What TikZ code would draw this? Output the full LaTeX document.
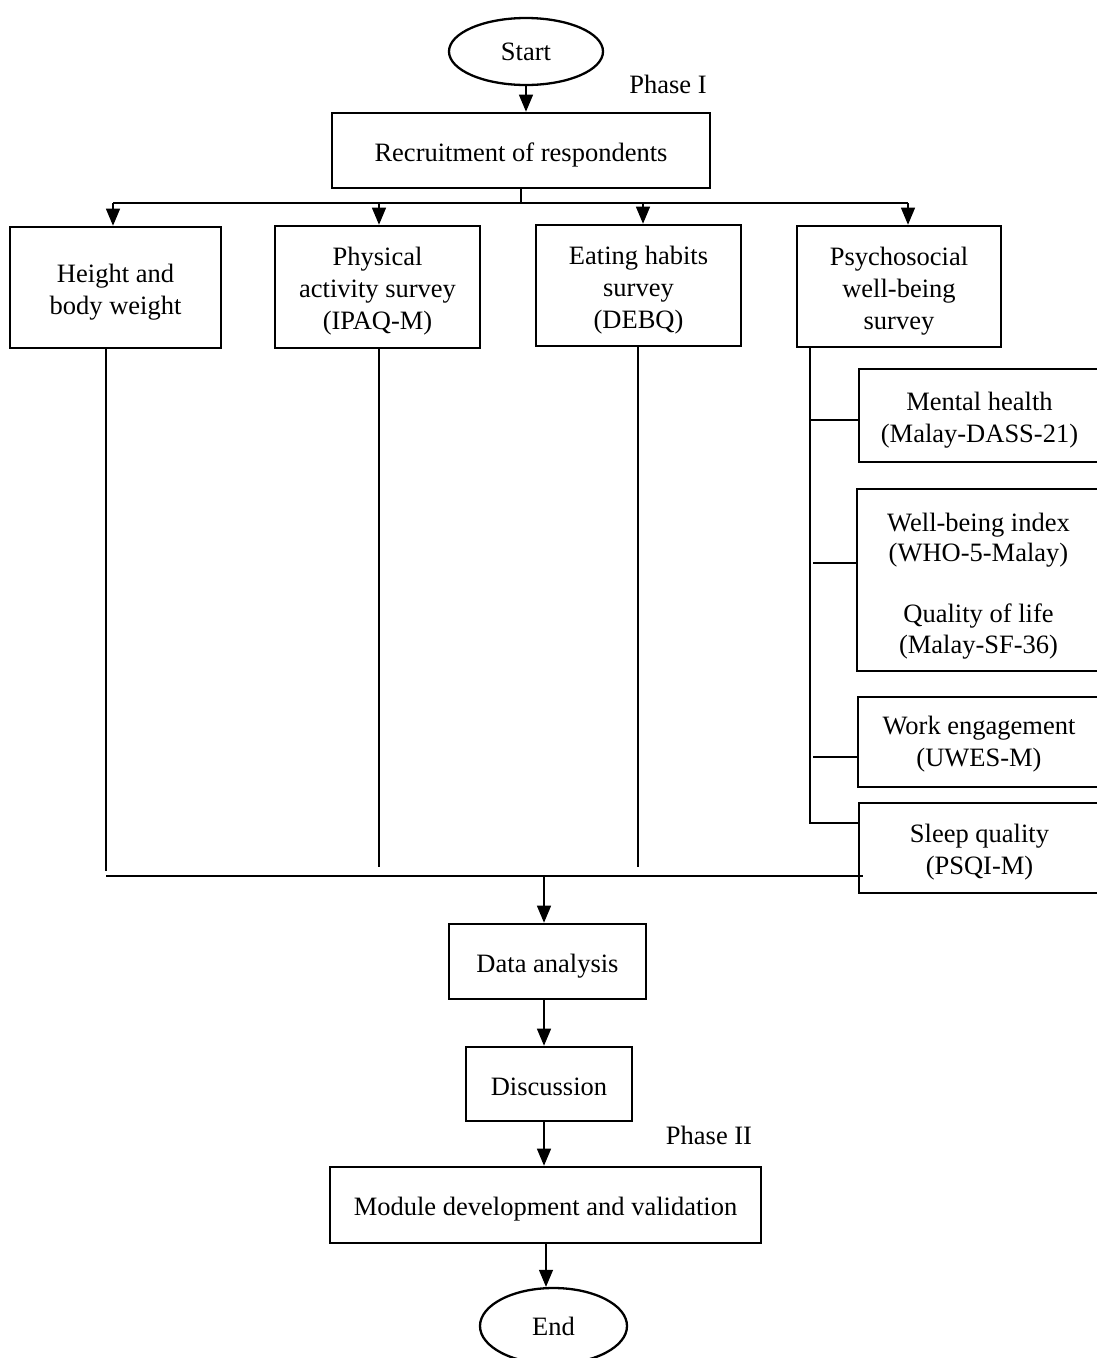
\documentclass[tikz,border=0pt]{standalone}
\usepackage{fontspec}
\setmainfont{Liberation Serif}
\usetikzlibrary{arrows.meta,shapes.geometric}
\begin{document}
\begin{tikzpicture}[x=1pt,y=-1pt,
  every node/.style={font=\fontsize{26.5}{32}\selectfont},
  boxnode/.style={draw,line width=2.6pt,inner sep=0pt},
  txt/.style={align=center,inner sep=0pt,yshift=-4.5pt},
  ovalnode/.style={draw,ellipse,line width=2.3pt,inner sep=0pt},
  link/.style={line width=1.2pt},
  arr/.style={line width=1.2pt,-{Triangle[length=17pt,width=14pt]}},
]
\useasboundingbox (0,0) rectangle (1097,1358);
\clip (0,0) rectangle (1097,1358);
\fill[white] (0,0) rectangle (1097,1358);

\node[ovalnode,minimum width=154pt,minimum height=67pt] (start) at (526,51.5) {Start};
\node (ph1) at (668,84) {Phase I};
\node[boxnode,minimum width=378pt,minimum height=75pt,label={[txt]center:Recruitment of respondents}] (recruit) at (521,150.5) {};

\node[boxnode,minimum width=211pt,minimum height=121pt,label={[txt]center:Height and\\body weight}] (b1) at (115.5,287.5) {};
\node[boxnode,minimum width=205pt,minimum height=122pt,label={[txt]center:Physical\\activity survey\\(IPAQ-M)}] (b2) at (377.5,287) {};
\node[boxnode,minimum width=205pt,minimum height=121pt,label={[txt]center:Eating habits\\survey\\(DEBQ)}] (b3) at (638.5,285.5) {};
\node[boxnode,minimum width=204pt,minimum height=121pt,label={[txt]center:Psychosocial\\well-being\\survey}] (b4) at (899,286.5) {};

\node[boxnode,minimum width=241pt,minimum height=93pt,label={[txt]center:Mental health\\(Malay-DASS-21)}] (m1) at (979.5,415.5) {};
\node[boxnode,minimum width=243pt,minimum height=182pt,label={[txt,yshift=-1.5pt,font=\fontsize{26.5}{30.5}\selectfont]center:Well-being index\\(WHO-5-Malay)\\[30.5pt]Quality of life\\(Malay-SF-36)}] (m2) at (978.5,580) {};
\node[boxnode,minimum width=242pt,minimum height=90pt,label={[txt,yshift=2pt]center:Work engagement\\(UWES-M)}] (m3) at (979,742) {};
\node[boxnode,minimum width=241pt,minimum height=90pt,label={[txt]center:Sleep quality\\(PSQI-M)}] (m4) at (979.5,848) {};

\node[boxnode,minimum width=197pt,minimum height=75pt,label={[txt]center:Data analysis}] (data) at (547.5,961.5) {};
\node[boxnode,minimum width=166pt,minimum height=74pt,label={[txt,yshift=1.5pt]center:Discussion}] (disc) at (549,1084) {};
\node (ph2) at (709,1135) {Phase II};
\node[boxnode,minimum width=431pt,minimum height=76pt,label={[txt]center:Module development and validation}] (module) at (545.5,1205) {};
\node[ovalnode,minimum width=147pt,minimum height=76pt] (end) at (553.5,1326) {End};

% top part
\draw[arr] (start.south) -- (start.south |- recruit.north);
\coordinate (bus) at (521,203);
\coordinate (busL) at (113,203);
\coordinate (busA) at (379,203);
\coordinate (busB) at (643,203);
\coordinate (busR) at (908,203);
\draw[line width=2.6pt] (recruit.south -| bus) -- (bus);
\draw[line width=1.6pt] (busL) -- (busR);
\draw[arr] (busL) -- (busL |- b1.north);
\draw[arr] (busA) -- (busA |- b2.north);
\draw[arr] (busB) -- (busB |- b3.north);
\draw[arr] (busR) -- (busR |- b4.north);

% down lines
\coordinate (c1) at (106,871);
\coordinate (c2) at (379,867);
\coordinate (c3) at (638,867);
\draw[link] (b1.south -| c1) -- (c1);
\draw[link] (b2.south -| c2) -- (c2);
\draw[link] (b3.south -| c3) -- (c3);

% psychosocial branches
\coordinate (p0) at (810,823);
\draw[link] (b4.south -| p0) -- (p0) -- (p0 -| m4.west);
\coordinate (q1) at (810,420);
\coordinate (q2) at (813,563);
\coordinate (q3) at (813,757);
\draw[link] (q1) -- (q1 -| m1.west);
\draw[link] (q2) -- (q2 -| m2.west);
\draw[link] (q3) -- (q3 -| m3.west);

% bottom collector
\coordinate (botL) at (106,876);
\coordinate (botR) at (863,876);
\coordinate (botM) at (544,876);
\draw[link] (botL) -- (botR);
\draw[arr] (botM) -- (botM |- data.north);
\coordinate (x1) at (544,0);
\draw[arr] (data.south -| x1) -- (disc.north -| x1);
\draw[arr] (disc.south -| x1) -- (module.north -| x1);
\coordinate (x2) at (546,0);
\draw[arr] (module.south -| x2) -- (end.north -| x2);
\end{tikzpicture}
\end{document}
